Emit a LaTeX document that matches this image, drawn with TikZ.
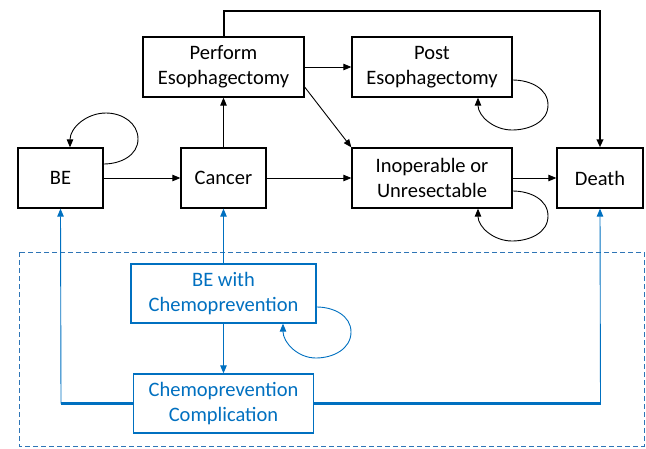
\documentclass[tikz,border=0pt]{standalone}
\usepackage{fontspec}
\setmainfont{Carlito}
\usetikzlibrary{arrows.meta}
\definecolor{ofblue}{RGB}{0,112,192}
\definecolor{dashblue}{RGB}{46,117,182}
\begin{document}
\begin{tikzpicture}[x=1pt,y=-1pt,
  state/.style={draw=black,line width=1.3pt,fill=white,align=center,inner sep=0pt,
    font=\fontsize{20.5}{25}\selectfont,text=black},
  bstate/.style={state,draw=ofblue,text=ofblue},
  arr/.style={-{Triangle[length=8pt,width=6.5pt]},line width=0.9pt,black},
  barr/.style={-{Triangle[length=8pt,width=6.5pt]},line width=0.9pt,ofblue}]
\useasboundingbox (0,0) rectangle (646,448);
% dashed region
\draw[dashblue,line width=1pt,dash pattern=on 5pt off 3pt] (19,252) rectangle (644,446);
% nodes
\node[state,minimum width=85pt,minimum height=60pt] (BE) at (60.5,178) {BE};
\node[state,minimum width=85pt,minimum height=60pt] (CA) at (223.5,178) {Cancer};
\node[state,minimum width=161pt,minimum height=60pt] (PE) at (223.5,67) {Perform\\Esophagectomy};
\node[state,minimum width=160pt,minimum height=60pt] (PO) at (432,67) {Post\\Esophagectomy};
\node[state,minimum width=160pt,minimum height=60pt] (IN) at (432,178) {Inoperable or\\Unresectable};
\node[state,minimum width=86pt,minimum height=60pt] (DE) at (600,178) {Death};
\node[bstate,minimum width=185pt,minimum height=59pt] (BC) at (223.5,293.5) {BE with\\Chemoprevention};
\node[bstate,minimum width=180pt,minimum height=59pt] (CC) at (223.5,403.5) {Chemoprevention\\Complication};
% black arrows
\draw[arr] (BE) -- (CA);
\draw[arr] (CA) -- (IN);
\draw[arr] (IN) -- (DE);
\draw[arr] (CA) -- (PE);
\draw[arr] (PE) -- (PO);
\draw[arr] ([yshift=-20pt]PE.east) -- (IN.north west);
\draw[arr,line width=2pt] (PE.north) -- (223.5,11) -| (DE.north);
% self loops
\draw[arr] ([yshift=14pt]BE.east) to[out=0,in=-90] (138,139) to[out=90,in=0] (106,113) to[out=180,in=90] ([xshift=9.5pt]BE.north);
\draw[arr] ([yshift=-13pt]PO.east) to[out=0,in=90] (548,105) to[out=-90,in=0] (512,130) to[out=180,in=-90] ([xshift=46pt]PO.south);
\draw[arr] ([yshift=-13pt]IN.east) to[out=0,in=90] (548,216) to[out=-90,in=0] (512,241) to[out=180,in=-90] ([xshift=46pt]IN.south);
\draw[barr] ([yshift=-13.5pt]BC.east) to[out=0,in=90] (351,332) to[out=-90,in=0] (316,358) to[out=180,in=-90] ([xshift=59.5pt]BC.south);
% blue arrows
\draw[barr] (BC) -- (CA);
\draw[barr] (BC) -- (CC);
\draw[ofblue,line width=2.2pt] (CC.west) -- (61,403.5);
\draw[ofblue,line width=2.2pt] (CC.east) -- (600.5,403.5);
\draw[barr] (61,403.5) -- (BE.south);
\draw[barr] (600.5,403.5) -- (DE.south);
\end{tikzpicture}
\end{document}
